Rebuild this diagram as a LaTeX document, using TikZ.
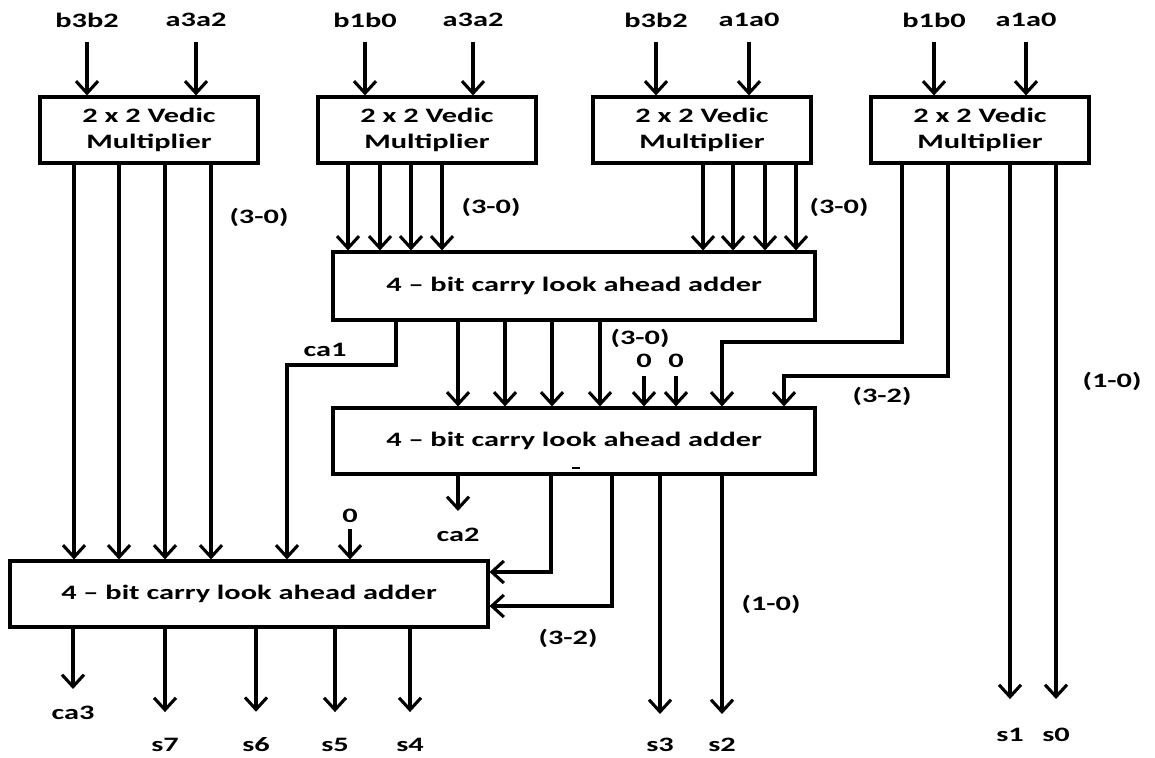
\documentclass[tikz,border=0pt]{standalone}
\usepackage{fontspec}
\newfontfamily\cfont{Carlito}[FakeStretch=1.48]
\usetikzlibrary{arrows.meta}
\begin{document}
\begin{tikzpicture}[x=1pt,y=-1pt,
  txt/.style={font=\cfont\bfseries\fontsize{20.5}{26}\selectfont, inner sep=0pt, text=black},
  blk/.style={draw, line width=3.1pt, txt, align=center, minimum width=218pt, minimum height=66pt},
  addr/.style={draw, line width=3.1pt, txt, minimum width=482pt, minimum height=68pt},
  wire/.style={line width=3.1pt},
  arr/.style={wire, -{Straight Barb[length=12pt,width=22pt]}},
]
\useasboundingbox (0,0) rectangle (1155,757);

% blocks
\node[blk] (m1) at (149,130) {2 x 2 Vedic\\Multiplier};
\node[blk] (m2) at (427,130) {2 x 2 Vedic\\Multiplier};
\node[blk] (m3) at (702,130) {2 x 2 Vedic\\Multiplier};
\node[blk] (m4) at (980,130) {2 x 2 Vedic\\Multiplier};
\node[addr] (a1) at (574,286) {4 – bit carry look ahead adder};
\node[addr, minimum height=66pt] (a2) at (574,441) {4 – bit carry look ahead adder};
\node[addr, minimum width=478pt, minimum height=66pt] (a3) at (249,594) {4 – bit carry look ahead adder};

% inputs
\node[txt] (i1) at (87,20) {b3b2};
\node[txt] (i2) at (196,20) {a3a2};
\node[txt] (i3) at (365,20) {b1b0};
\node[txt] (i4) at (473,20) {a3a2};
\node[txt] (i5) at (656,20) {b3b2};
\node[txt] (i6) at (749,20) {a1a0};
\node[txt] (i7) at (934,20) {b1b0};
\node[txt] (i8) at (1026,20) {a1a0};
\draw[arr, shorten <=15pt] (i1) -- (i1 |- m1.north);
\draw[arr, shorten <=15pt] (i2) -- (i2 |- m1.north);
\draw[arr, shorten <=15pt] (i3) -- (i3 |- m2.north);
\draw[arr, shorten <=15pt] (i4) -- (i4 |- m2.north);
\draw[arr, shorten <=15pt] (i5) -- (i5 |- m3.north);
\draw[arr, shorten <=15pt] (i6) -- (i6 |- m3.north);
\draw[arr, shorten <=15pt] (i7) -- (i7 |- m4.north);
\draw[arr, shorten <=15pt] (i8) -- (i8 |- m4.north);

% M1 -> A3
\foreach \x [count=\i] in {74,119,165,211} {
  \coordinate (u\i) at (\x,0);
  \draw[arr] (u\i |- m1.south) -- (u\i |- a3.north);
}
% M2 -> A1
\foreach \x [count=\i] in {348,380,411,442} {
  \coordinate (p\i) at (\x,0);
  \draw[arr] (p\i |- m2.south) -- (p\i |- a1.north);
}
% M3 -> A1
\foreach \x [count=\i] in {703,733,765,796} {
  \coordinate (q\i) at (\x,0);
  \draw[arr] (q\i |- m3.south) -- (q\i |- a1.north);
}
% A1 -> A2
\foreach \x [count=\i] in {458,505,552,600} {
  \coordinate (t\i) at (\x,0);
  \draw[arr] (t\i |- a1.south) -- (t\i |- a2.north);
}

% carry ca1
\coordinate (c1) at (396,0);
\coordinate (c1b) at (287,365);
\draw[arr] (c1 |- a1.south) |- (c1b) -- (c1b |- a3.north);
\node[txt] at (325,350) {ca1};

% M4 routed to A2
\coordinate (v1) at (902,0);
\coordinate (v2) at (948,0);
\coordinate (r1) at (722,342);
\coordinate (r2) at (784,376);
\draw[arr] (v1 |- m4.south) |- (r1) -- (r1 |- a2.north);
\draw[arr] (v2 |- m4.south) |- (r2) -- (r2 |- a2.north);

% zeros
\node[txt] (z1) at (644,361) {0};
\node[txt] (z2) at (676,361) {0};
\node[txt] (z3) at (350,516) {0};
\draw[arr, shorten <=8pt] (z1) -- (z1 |- a2.north);
\draw[arr, shorten <=8pt] (z2) -- (z2 |- a2.north);
\draw[arr, shorten <=6pt] (z3) -- (z3 |- a3.north);

% s1 s0
\node[txt] (s1) at (1010,735) {s1};
\node[txt] (s0) at (1056,735) {s0};
\draw[arr, shorten >=29pt] (m4.south -| s1) -- (s1);
\draw[arr, shorten >=29pt] (m4.south -| s0) -- (s0);

% A2 outputs
\node[txt] (ca2) at (458,535) {ca2};
\draw[arr, shorten >=17pt] (a2.south -| ca2) -- (ca2);
\coordinate (w1) at (551,572);
\coordinate (w2) at (612,606);
\draw[arr] (w1 |- a2.south) -- (w1) -- (w1 -| a3.east);
\draw[arr] (w2 |- a2.south) -- (w2) -- (w2 -| a3.east);
\node[txt] (s3) at (660,745) {s3};
\node[txt] (s2) at (722,745) {s2};
\draw[arr, shorten >=24pt] (a2.south -| s3) -- (s3);
\draw[arr, shorten >=24pt] (a2.south -| s2) -- (s2);
\draw[line width=1.2pt] (572,468) -- (580,468);

% A3 outputs
\node[txt] (ca3) at (73,713) {ca3};
\draw[arr, shorten >=17pt] (a3.south -| ca3) -- (ca3);
\node[txt] (s7) at (165,745) {s7};
\node[txt] (s6) at (256,745) {s6};
\node[txt] (s5) at (335,745) {s5};
\node[txt] (s4) at (410,745) {s4};
\foreach \n in {s7,s6,s5,s4} \draw[arr, shorten >=26pt] (a3.south -| \n) -- (\n);

% bus labels
\node[txt] at (259,217) {(3-0)};
\node[txt] at (491,207) {(3-0)};
\node[txt] at (839,207) {(3-0)};
\node[txt] at (640,338) {(3-0)};
\node[txt] at (882,396) {(3-2)};
\node[txt] at (1112,381) {(1-0)};
\node[txt] at (568,638) {(3-2)};
\node[txt] at (771,604) {(1-0)};
\end{tikzpicture}
\end{document}
